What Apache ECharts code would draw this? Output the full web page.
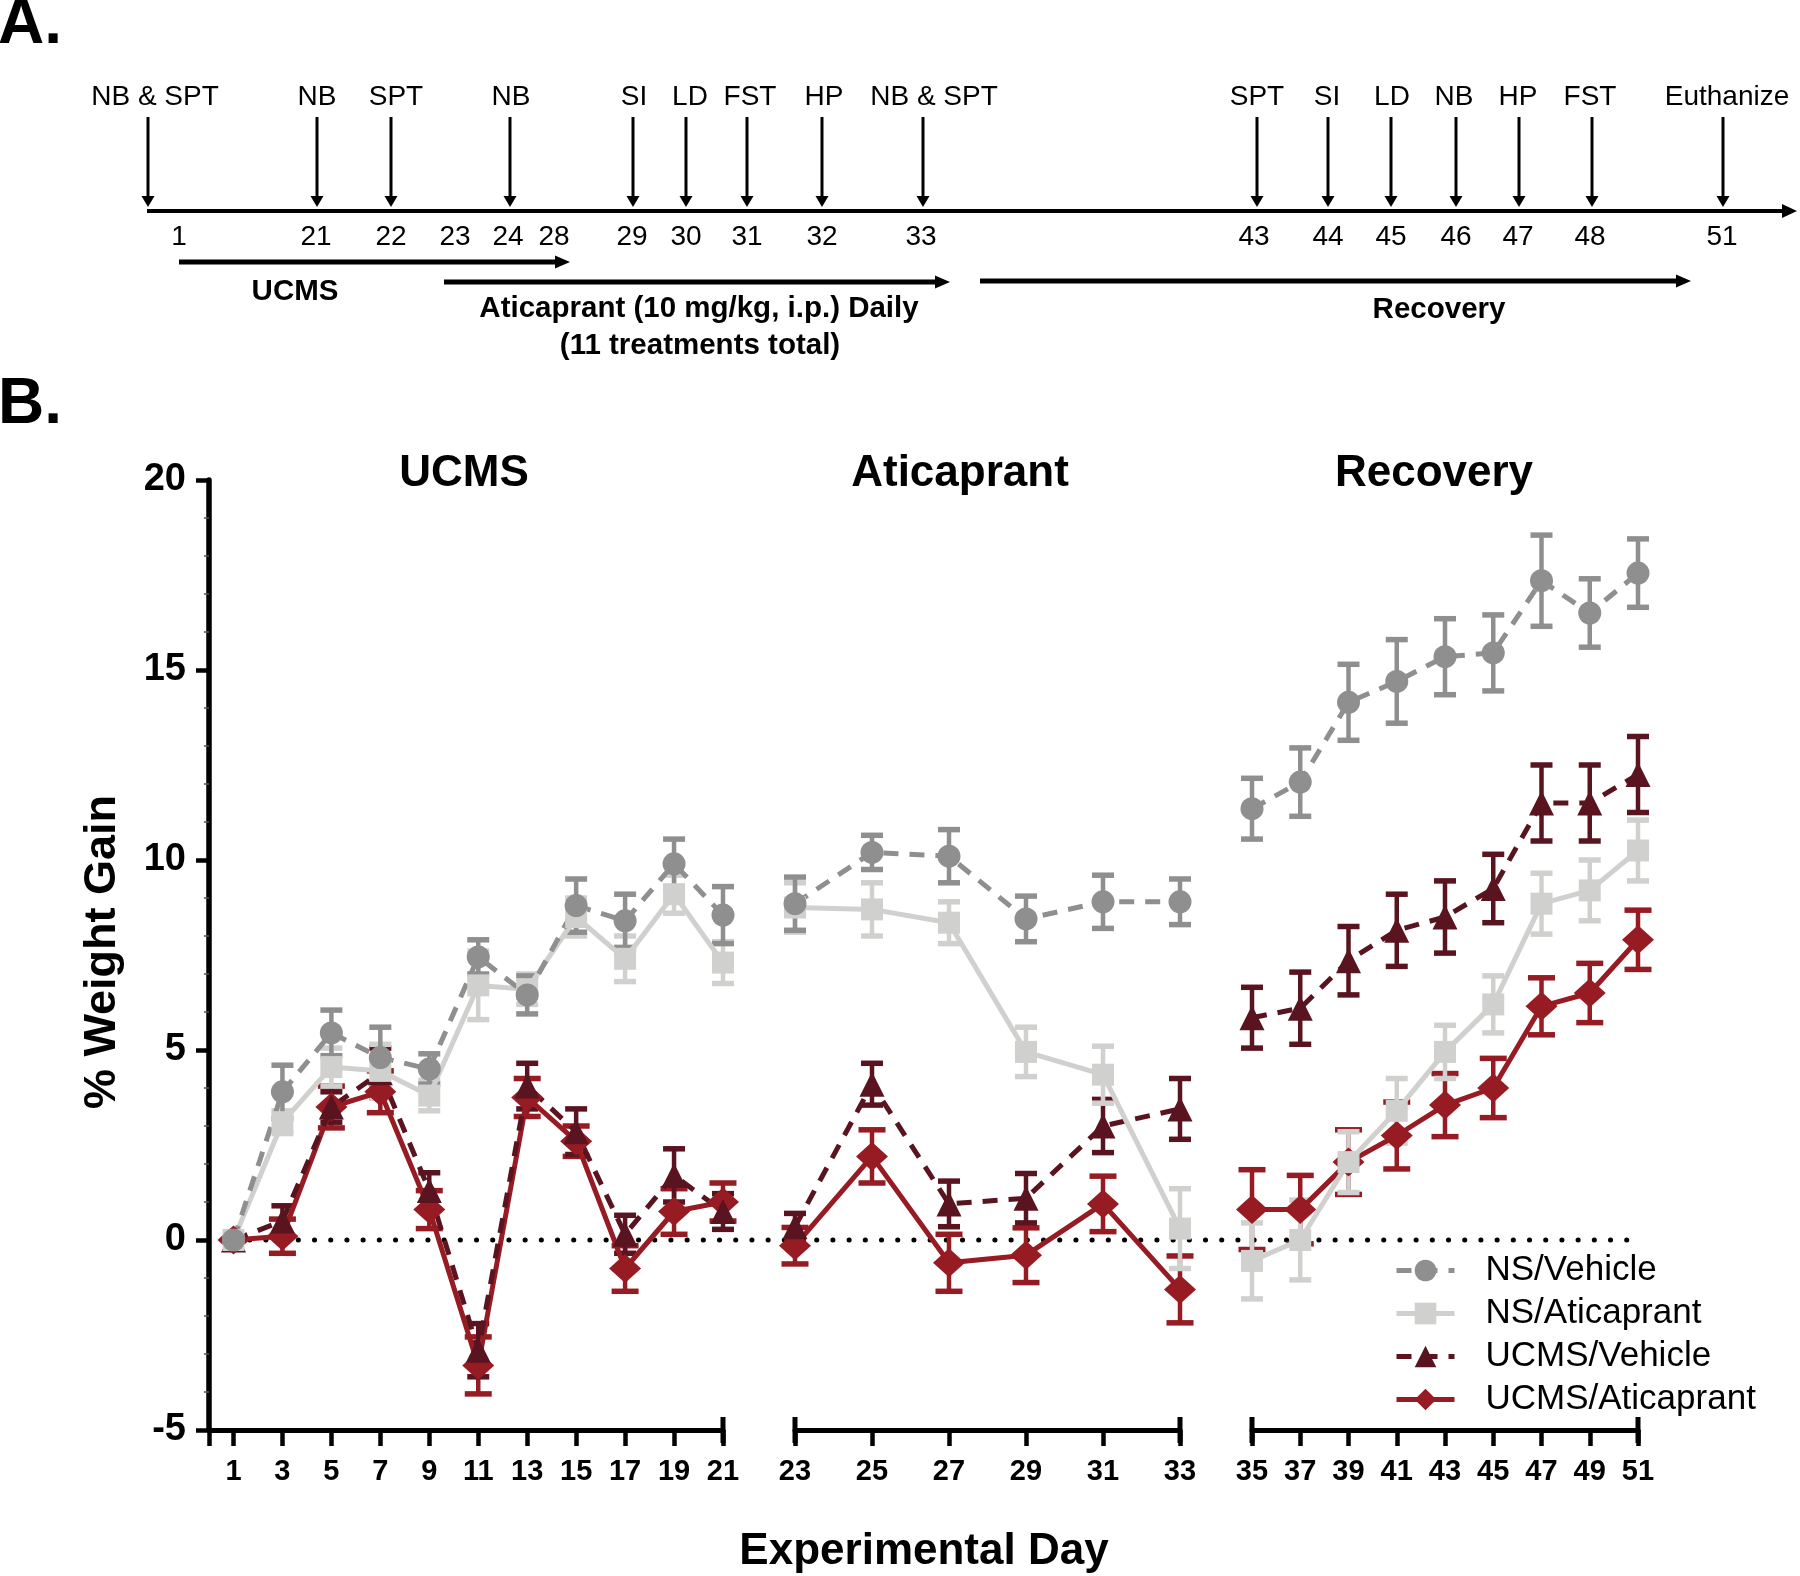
<!DOCTYPE html>
<html><head><meta charset="utf-8">
<script src="https://cdn.jsdelivr.net/npm/echarts@6/dist/echarts.min.js"></script>
<style>html,body{margin:0;padding:0;background:#fff}#c{width:1800px;height:1576px}</style>
</head><body><div id="c"></div>
<script>
// ---------------- DATA ----------------
const days = [1,3,5,7,9,11,13,15,17,19,21, 23,25,27,29,31,33, 35,37,39,41,43,45,47,49,51];

const nsVehicleMean = [0,3.9,5.45,4.8,4.5,7.45,6.45,8.8,8.4,9.9,8.55, 8.85,10.2,10.1,8.45,8.9,8.9, 11.35,12.05,14.15,14.7,15.35,15.45,17.35,16.5,17.55];
const nsVehicleSem  = [0,0.7,0.6,0.8,0.4,0.45,0.5,0.7,0.7,0.65,0.75, 0.7,0.45,0.7,0.6,0.7,0.6, 0.8,0.9,1.0,1.1,1.0,1.0,1.2,0.9,0.9];

const nsAticMean = [0,3.1,4.55,4.45,3.8,6.7,6.6,8.5,7.4,9.1,7.3, 8.75,8.7,8.35,4.95,4.35,0.3, -0.55,0.0,2.05,3.4,4.95,6.2,8.85,9.2,10.25];
const nsAticSem  = [0,0.3,0.5,0.7,0.4,0.9,0.4,0.5,0.6,0.5,0.55, 0.65,0.7,0.55,0.65,0.75,1.05, 1.0,1.05,0.8,0.85,0.7,0.75,0.8,0.8,0.8];

const ucmsVehicleMean = [0,0.5,3.5,4.4,1.3,-2.9,4.05,2.85,0.15,1.7,0.75, 0.35,4.1,0.95,1.1,3.0,3.45, 5.85,6.1,7.35,8.15,8.5,9.25,11.5,11.5,12.25];
const ucmsVehicleSem  = [0,0.4,0.4,0.65,0.47,0.7,0.6,0.6,0.5,0.7,0.47, 0.35,0.55,0.6,0.65,0.7,0.8, 0.8,0.95,0.9,0.95,0.95,0.9,1.0,1.0,1.0];

const ucmsAticMean = [0,0.1,3.5,3.9,0.8,-3.3,3.75,2.6,-0.75,0.75,1.0, -0.15,2.2,-0.6,-0.4,0.95,-1.3, 0.8,0.8,2.05,2.75,3.55,4.0,6.15,6.5,7.9];
const ucmsAticSem  = [0,0.45,0.55,0.55,0.5,0.75,0.5,0.4,0.6,0.6,0.5, 0.48,0.7,0.75,0.72,0.73,0.88, 1.05,0.9,0.85,0.88,0.83,0.78,0.75,0.78,0.78];

const seriesNames = ['NS/Vehicle','NS/Aticaprant','UCMS/Vehicle','UCMS/Aticaprant'];
const phaseTitles = ['UCMS','Aticaprant','Recovery'];
const xTicksUCMS  = [1,3,5,7,9,11,13,15,17,19,21];
const xTicksAtic  = [23,25,27,29,31,33];
const xTicksRecov = [35,37,39,41,43,45,47,49,51];
const yAxisTitle = '% Weight Gain';
const xAxisTitle = 'Experimental Day';

const timelineEvents = ['NB & SPT','NB','SPT','NB','SI','LD','FST','HP','NB & SPT','SPT','SI','LD','NB','HP','FST','Euthanize'];
const timelineDays = ['1','21','22','23','24','28','29','30','31','32','33','43','44','45','46','47','48','51'];
const phaseLabels = ['UCMS','Aticaprant (10 mg/kg, i.p.) Daily','(11 treatments total)','Recovery'];
const panelLabels = ['A.','B.'];

// ---------------- LAYOUT / STYLE ----------------
const FONT = '"Liberation Sans", Arial, Helvetica, sans-serif';
const segRanges = [[0,21],[23,33],[35,51]];
const gridBoxes = [
  {left:209, top:480, width:514, height:950},
  {left:795, top:480, width:385, height:950},
  {left:1252, top:480, width:386, height:950}
];
const tickSets = [[0].concat(xTicksUCMS), xTicksAtic, xTicksRecov];
const labelSets = [xTicksUCMS, xTicksAtic, xTicksRecov];

const groupDefs = [ // bottom -> top draw order
  {name:'UCMS/Aticaprant', mean:ucmsAticMean, sem:ucmsAticSem, color:'#961b23', symbol:'diamond', size:[32,29], dash:'solid', cap:27},
  {name:'UCMS/Vehicle', mean:ucmsVehicleMean, sem:ucmsVehicleSem, color:'#5a1420', symbol:'triangle', size:25, dash:[15,11], cap:22},
  {name:'NS/Aticaprant', mean:nsAticMean, sem:nsAticSem, color:'#d0d0ce', symbol:'rect', size:22, dash:'solid', cap:22},
  {name:'NS/Vehicle', mean:nsVehicleMean, sem:nsVehicleSem, color:'#8f8f8f', symbol:'circle', size:23, dash:[15,11], cap:22}
];

function makeErr(color, cap){
  return function(params, api){
    const x = api.value(0), lo = api.value(1), hi = api.value(2);
    const t = api.coord([x, hi]), b = api.coord([x, lo]);
    const h = cap/2;
    return {type:'group', children:[
      {type:'line', shape:{x1:t[0],y1:t[1],x2:b[0],y2:b[1]}, style:{stroke:color,lineWidth:4.5}},
      {type:'line', shape:{x1:t[0]-h,y1:t[1],x2:t[0]+h,y2:t[1]}, style:{stroke:color,lineWidth:5.5}},
      {type:'line', shape:{x1:b[0]-h,y1:b[1],x2:b[0]+h,y2:b[1]}, style:{stroke:color,lineWidth:5.5}}
    ]};
  };
}
function endBar(params, api){
  const p = api.coord([api.value(0), -5]);
  return {type:'line', shape:{x1:p[0],y1:p[1]-13,x2:p[0],y2:p[1]+13}, style:{stroke:'#000',lineWidth:5}};
}

const xAxes = segRanges.map((r,s)=>({
  type:'value', gridIndex:s, min:r[0], max:r[1],
  axisLine:{show:true,onZero:false,lineStyle:{color:'#000',width:5}},
  axisTick:{show:true,length:16,customValues:tickSets[s],lineStyle:{color:'#000',width:4.5}},
  axisLabel:{show:true,customValues:labelSets[s],margin:27,color:'#000',fontSize:29,fontWeight:'bold',fontFamily:FONT},
  splitLine:{show:false}
}));
const yAxes = segRanges.map((r,s)=>({
  type:'value', gridIndex:s, min:-5, max:20, interval:5, show:s===0,
  axisLine:{show:true,onZero:false,lineStyle:{color:'#000',width:5.5}},
  axisTick:{show:true,length:13,lineStyle:{color:'#000',width:4.5}},
  minorTick:{show:true,splitNumber:5,length:5,lineStyle:{color:'#555',width:1.5}},
  axisLabel:{margin:23,color:'#000',fontSize:38,fontWeight:'bold',fontFamily:FONT},
  splitLine:{show:false}
}));

const series = [];
groupDefs.forEach(g=>{
  segRanges.forEach((r,s)=>{
    const pts = days.map((d,i)=>[d,g.mean[i],g.sem[i]]).filter(p=>p[0]>=r[0]&&p[0]<=r[1]);
    series.push({type:'line', name:g.name, xAxisIndex:s, yAxisIndex:s, clip:false,
      data:pts.map(p=>[p[0],p[1]]), symbol:g.symbol, symbolSize:g.size, showSymbol:true,
      itemStyle:{color:g.color,opacity:1}, lineStyle:{color:g.color,width:5,type:g.dash}, z:3});
    series.push({type:'custom', name:g.name+' SEM', xAxisIndex:s, yAxisIndex:s, silent:true,
      data:pts.filter(p=>p[2]>0).map(p=>[p[0],p[1]-p[2],p[1]+p[2]]),
      encode:{x:0,y:[1,2]}, renderItem:makeErr(g.color,g.cap), z:3});
  });
});
// segment end bars
const segEnds = [[segRanges[0][1]],[segRanges[1][0],segRanges[1][1]],[segRanges[2][0],segRanges[2][1]]];
segEnds.forEach((e,s)=>{
  series.push({type:'custom', name:'axisEnd'+s, xAxisIndex:s, yAxisIndex:s, silent:true,
    data:e.map(v=>[v]), encode:{x:0}, renderItem:endBar, z:1});
});

const chart = echarts.init(document.getElementById('c'), null, {renderer:'canvas'});
chart.setOption({
  animation:false, backgroundColor:'#fff',
  grid:gridBoxes, xAxis:xAxes, yAxis:yAxes, series:series,
  legend:{data:seriesNames, orient:'vertical', left:1389, top:1248, itemWidth:58, itemHeight:27, itemGap:8,
    lineStyle:{width:5},
    textStyle:{fontSize:35,color:'#000',fontFamily:FONT,padding:[0,0,0,26]}, selectedMode:false}
});

// ---------------- GRAPHICS (timeline + texts) ----------------
const L = {
  eventX:[148,317,391,510,633,686,747,822,923,1257,1328,1391,1456,1519,1592,1723],
  labelX:[155,317,396,511,634,690,750,824,934,1257,1327,1392,1454,1518,1590,1727],
  dayX:[179,316,391,455,508,554,632,686,747,822,921,1254,1328,1391,1456,1518,1590,1722],
  labelY:97, arrowTop:117, arrowTip:207, lineY:211, lineX1:147, lineX2:1797, dayY:237,
  phaseArrows:[[179,570,262],[444,950,282],[980,1691,281]],
  phaseText:[[295,292],[699,309],[700,346],[1439,310]],
  titleX:[464,960,1434], titleY:474
};
const G = [];
function txt(t,x,y,font,align,extra){
  G.push(Object.assign({type:'text', x:x, y:y, style:{text:t, font:font, fill:'#000', textAlign:align||'center', textVerticalAlign:'middle'}}, extra||{}));
}
function line(x1,y1,x2,y2,w){ G.push({type:'line', shape:{x1,y1,x2,y2}, style:{stroke:'#000',lineWidth:w}}); }
function poly(pts){ G.push({type:'polygon', shape:{points:pts}, style:{fill:'#000'}}); }

txt(panelLabels[0], -2, 25, 'bold 64px '+FONT, 'left');
txt(panelLabels[1], -2, 405, 'bold 64px '+FONT, 'left');

// main timeline
line(L.lineX1, L.lineY, L.lineX2-12, L.lineY, 4);
poly([[L.lineX2-15,L.lineY-7],[L.lineX2-15,L.lineY+7],[L.lineX2,L.lineY]]);
timelineEvents.forEach((e,i)=>{
  txt(e, L.labelX[i], L.labelY, '28px '+FONT);
  const x = L.eventX[i];
  line(x, L.arrowTop, x, L.arrowTip-9, 3);
  poly([[x-6.5,L.arrowTip-11],[x+6.5,L.arrowTip-11],[x,L.arrowTip]]);
});
timelineDays.forEach((d,i)=> txt(d, L.dayX[i], L.dayY, '28px '+FONT));
L.phaseArrows.forEach(a=>{
  line(a[0], a[2], a[1]-12, a[2], 5);
  poly([[a[1]-15,a[2]-6.5],[a[1]-15,a[2]+6.5],[a[1],a[2]]]);
});
phaseLabels.forEach((p,i)=> txt(p, L.phaseText[i][0], L.phaseText[i][1], 'bold 29.5px '+FONT));

// panel titles and axis titles
phaseTitles.forEach((t,i)=> txt(t, L.titleX[i], L.titleY, 'bold 44px '+FONT));
txt(yAxisTitle, 103, 952, 'bold 45px '+FONT, 'center', {rotation:Math.PI/2});
txt(xAxisTitle, 924, 1552, 'bold 44px '+FONT);

// dotted zero reference line from first to last day, through the library's scales
const p1 = chart.convertToPixel({xAxisIndex:0, yAxisIndex:0}, [days[0], 0]);
const p2 = chart.convertToPixel({xAxisIndex:2, yAxisIndex:2}, [days[days.length-1], 0]);
G.push({type:'line', z:1, shape:{x1:p1[0],y1:p1[1],x2:p2[0],y2:p2[1]},
  style:{stroke:'#000', lineWidth:5, lineDash:[0.1,16.1], lineCap:'round'}});

chart.setOption({graphic:{elements:G}});
</script>
</body></html>
